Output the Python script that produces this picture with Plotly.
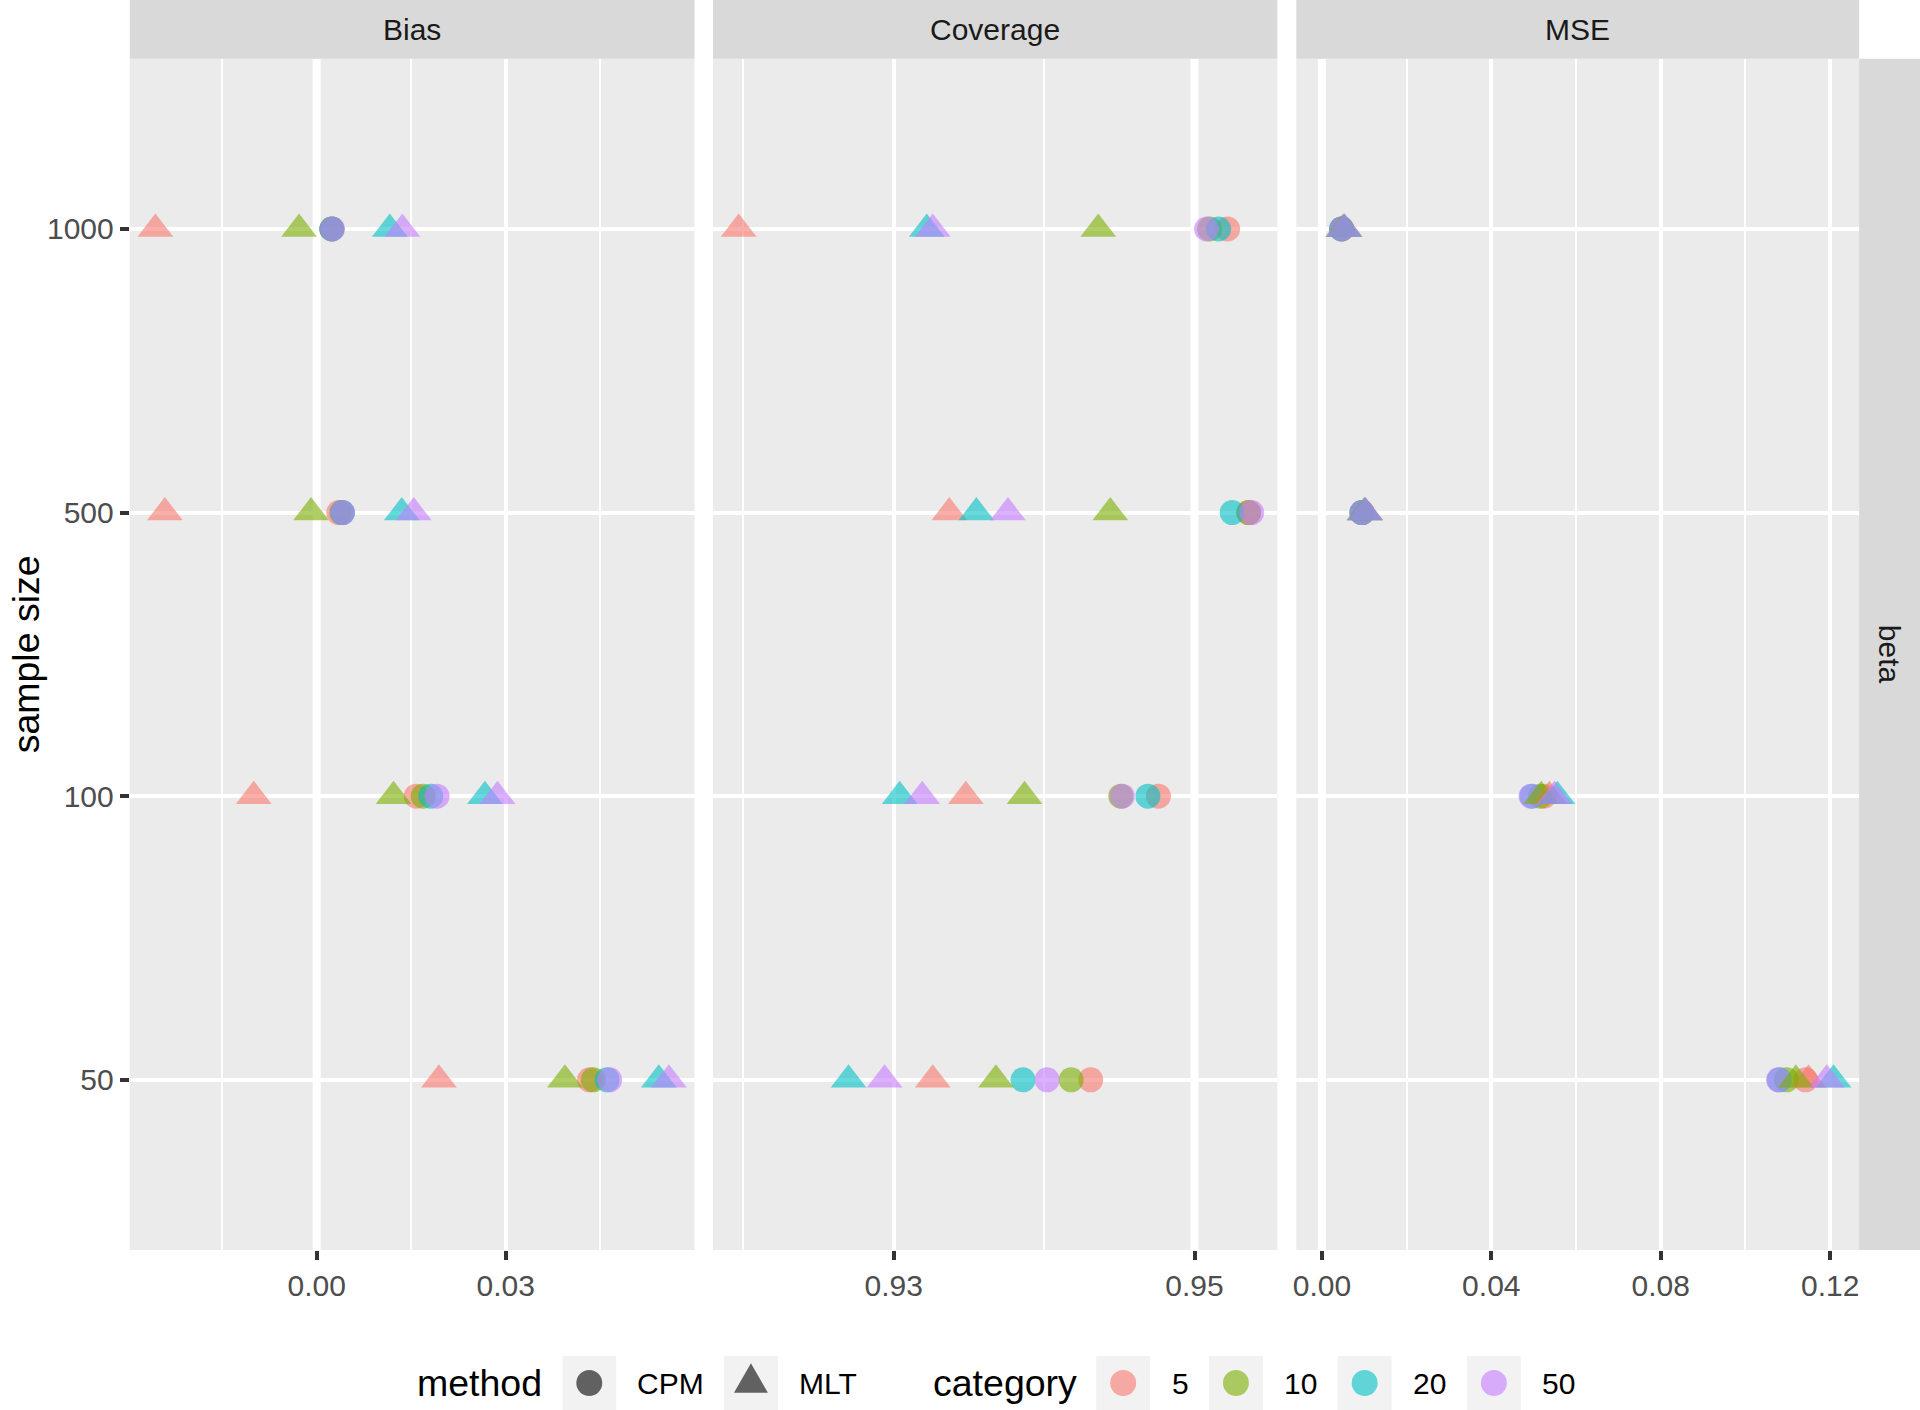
import plotly.graph_objects as go

# ---------------- data ----------------
sample_sizes = ["1000", "500", "100", "50"]          # columns of every value row
categories = ["5", "10", "20", "50"]                  # rows of every value table
panels = ["Bias", "Coverage", "MSE"]
methods = ["CPM", "MLT"]
target_values = [0.0, 0.95, 0.0]                      # reference lines per panel

bias_cpm = [[0.0024, 0.0035, 0.0158, 0.0433],
            [0.0024, 0.0040, 0.0169, 0.0439],
            [0.0024, 0.0041, 0.0181, 0.0461],
            [0.0025, 0.0041, 0.0191, 0.0465]]
bias_mlt = [[-0.0256, -0.0241, -0.0100, 0.0194],
            [-0.0028, -0.0009, 0.0122, 0.0394],
            [0.0116, 0.0135, 0.0267, 0.0543],
            [0.0136, 0.0154, 0.0287, 0.0559]]
coverage_cpm = [[0.9522, 0.9536, 0.9476, 0.9431],
                [0.9510, 0.9536, 0.9451, 0.9418],
                [0.9516, 0.9525, 0.9469, 0.9386],
                [0.9508, 0.9538, 0.9452, 0.9402]]
coverage_mlt = [[0.9197, 0.9337, 0.9348, 0.9326],
                [0.9436, 0.9444, 0.9387, 0.9368],
                [0.9322, 0.9355, 0.9304, 0.9270],
                [0.9326, 0.9376, 0.9319, 0.9294]]
mse_cpm = [[0.0047, 0.0095, 0.0525, 0.1142],
           [0.0047, 0.0095, 0.0516, 0.1097],
           [0.0046, 0.0094, 0.0496, 0.1080],
           [0.0047, 0.0095, 0.0494, 0.1078]]
mse_mlt = [[0.0054, 0.0103, 0.0537, 0.1149],
           [0.0050, 0.0100, 0.0518, 0.1119],
           [0.0053, 0.0102, 0.0556, 0.1208],
           [0.0052, 0.0102, 0.0549, 0.1192]]

major_ticks = [[0.00, 0.03], [0.93, 0.95], [0.00, 0.04, 0.08, 0.12]]
major_labels = [["0.00", "0.03"], ["0.93", "0.95"], ["0.00", "0.04", "0.08", "0.12"]]
minor_ticks = [[-0.015, 0.015, 0.045], [0.92, 0.94], [0.02, 0.06, 0.10]]

# ---------------- style ----------------
W, H = 1920, 1410
cat_colors = ["#F8766D", "#7CAE00", "#00BFC4", "#C77CFF"]
cat_rgba = ["rgba(248,118,109,0.6)", "rgba(124,174,0,0.6)",
            "rgba(0,191,196,0.6)", "rgba(199,124,255,0.6)"]
symbols = {"CPM": "circle", "MLT": "triangle-up"}
sizes = {"CPM": 25, "MLT": 31}
ALPHA = 0.6
FONT = "Liberation Sans, Arial, Helvetica, sans-serif"
panel_px = [(126, 692), (710.5, 1276), (1295, 1859)]
panel_top, panel_bottom = 58.8, 1250


def px(x):
    return x / W


def py(y):
    return (H - y) / H


ydom = [py(panel_bottom), py(panel_top)]

tables = {("Bias", "CPM"): bias_cpm, ("Bias", "MLT"): bias_mlt,
          ("Coverage", "CPM"): coverage_cpm, ("Coverage", "MLT"): coverage_mlt,
          ("MSE", "CPM"): mse_cpm, ("MSE", "MLT"): mse_mlt}

fig = go.Figure()

for p, panel in enumerate(panels):
    ax = "" if p == 0 else str(p + 1)
    for m in methods:
        table = tables[(panel, m)]
        for c, cat in enumerate(categories):
            fig.add_trace(go.Scatter(
                x=table[c], y=sample_sizes, mode="markers",
                xaxis="x" + ax, yaxis="y" + ax,
                marker=dict(symbol=symbols[m], size=sizes[m], color=cat_colors[c],
                            opacity=ALPHA, line=dict(width=0)),
                showlegend=False, hoverinfo="x+y+name", name=f"{m} {cat}"))

    # ggplot-like range (5% expansion, including the reference line)
    vals = [v for m in methods for row in tables[(panel, m)] for v in row] + [target_values[p]]
    lo, hi = min(vals), max(vals)
    pad = 0.05 * (hi - lo)
    x0, x1 = panel_px[p]
    fig.update_layout(**{
        "xaxis" + ax: dict(
            domain=[px(x0), px(x1)], range=[lo - pad, hi + pad], anchor="y" + ax,
            tickmode="array", tickvals=major_ticks[p], ticktext=major_labels[p],
            showgrid=True, gridcolor="white", gridwidth=3.5, zeroline=False, showline=False,
            ticks="outside", ticklen=9, tickwidth=3.5, tickcolor="#333333",
            tickfont=dict(size=30, color="#4D4D4D", family=FONT),
            minor=dict(tickmode="array", tickvals=minor_ticks[p], showgrid=True,
                       gridcolor="white", gridwidth=1.8, ticks=""),
        ),
        "yaxis" + ax: dict(
            domain=ydom, anchor="x" + ax, type="category",
            categoryorder="array", categoryarray=sample_sizes[::-1], range=[-0.6, 3.6],
            showgrid=True, gridcolor="white", gridwidth=3.5, zeroline=False, showline=False,
            ticks="outside" if p == 0 else "", ticklen=9, tickwidth=3.5, tickcolor="#333333",
            showticklabels=(p == 0),
            tickfont=dict(size=30, color="#4D4D4D", family=FONT),
        ),
    })
    # thick white reference line
    fig.add_shape(type="line", xref="x" + ax, yref="paper",
                  x0=target_values[p], x1=target_values[p], y0=ydom[0], y1=ydom[1],
                  line=dict(color="white", width=8), layer="below")
    # top strip
    fig.add_shape(type="rect", xref="paper", yref="paper", x0=px(x0), x1=px(x1),
                  y0=py(panel_top), y1=1, fillcolor="#D9D9D9", line=dict(width=0),
                  layer="below")
    fig.add_annotation(xref="paper", yref="paper", x=px((x0 + x1) / 2),
                       y=py(panel_top / 2), text=panel, showarrow=False,
                       font=dict(size=30, color="#1A1A1A", family=FONT),
                       xanchor="center", yanchor="middle")

# right strip
fig.add_shape(type="rect", xref="paper", yref="paper", x0=px(1859), x1=1,
              y0=ydom[0], y1=ydom[1], fillcolor="#D9D9D9", line=dict(width=0), layer="below")
fig.add_annotation(xref="paper", yref="paper", x=px((1859 + W) / 2), y=sum(ydom) / 2,
                   text="beta", textangle=90, showarrow=False,
                   xanchor="center", yanchor="middle",
                   font=dict(size=30, color="#1A1A1A", family=FONT))
# y title
fig.add_annotation(xref="paper", yref="paper", x=px(22), y=sum(ydom) / 2,
                   text="sample size", textangle=-90, showarrow=False,
                   xanchor="center", yanchor="middle",
                   font=dict(size=37.5, color="black", family=FONT))

# ---------------- legend (ggplot style, drawn as decoration) ----------------
LEG_Y = 1383
KEY = 54
key_top, key_bot = 1356, 1410


def key_box(xl):
    fig.add_shape(type="rect", xref="paper", yref="paper", x0=px(xl), x1=px(xl + KEY),
                  y0=py(key_bot), y1=py(key_top), fillcolor="#F2F2F2", line=dict(width=0))


def leg_text(x, text, size):
    fig.add_annotation(xref="paper", yref="paper", x=px(x), y=py(LEG_Y), text=text,
                       showarrow=False, xanchor="left", yanchor="middle",
                       font=dict(size=size, color="black", family=FONT))


def leg_circle(cx, color, r=13):
    fig.add_shape(type="circle", xref="paper", yref="paper",
                  x0=px(cx - r), x1=px(cx + r), y0=py(LEG_Y + r), y1=py(LEG_Y - r),
                  fillcolor=color, line=dict(width=0))


def leg_triangle(cx, color, s=34):
    h = s * 0.866
    top = (px(cx), py(LEG_Y - 2 * h / 3))
    bl = (px(cx - s / 2), py(LEG_Y + h / 3))
    br = (px(cx + s / 2), py(LEG_Y + h / 3))
    fig.add_shape(type="path", xref="paper", yref="paper",
                  path=f"M {top[0]},{top[1]} L {bl[0]},{bl[1]} L {br[0]},{br[1]} Z",
                  fillcolor=color, line=dict(width=0))


leg_text(412, "method", 37.5)
method_keys = [559.5, 721.5]
method_labels = [632, 795]
for i, m in enumerate(methods):
    key_box(method_keys[i])
    if symbols[m] == "circle":
        leg_circle(method_keys[i] + KEY / 2, "rgba(0,0,0,0.6)")
    else:
        leg_triangle(method_keys[i] + KEY / 2, "rgba(0,0,0,0.6)")
    leg_text(method_labels[i], m, 30)

leg_text(929, "category", 37.5)
cat_keys = [1094.5, 1207.5, 1336.5, 1466]
cat_labels = [1168, 1281, 1410, 1539]
for c, cat in enumerate(categories):
    key_box(cat_keys[c])
    leg_circle(cat_keys[c] + KEY / 2, cat_rgba[c])
    leg_text(cat_labels[c], cat, 30)

fig.update_layout(
    width=W, height=H, margin=dict(l=0, r=0, t=0, b=0),
    paper_bgcolor="white", plot_bgcolor="#EBEBEB",
    font=dict(family=FONT), showlegend=False,
)

fig.write_html("out.html", config={"displayModeBar": False},
               post_script="document.body.style.margin='0';document.body.style.padding='0';")
